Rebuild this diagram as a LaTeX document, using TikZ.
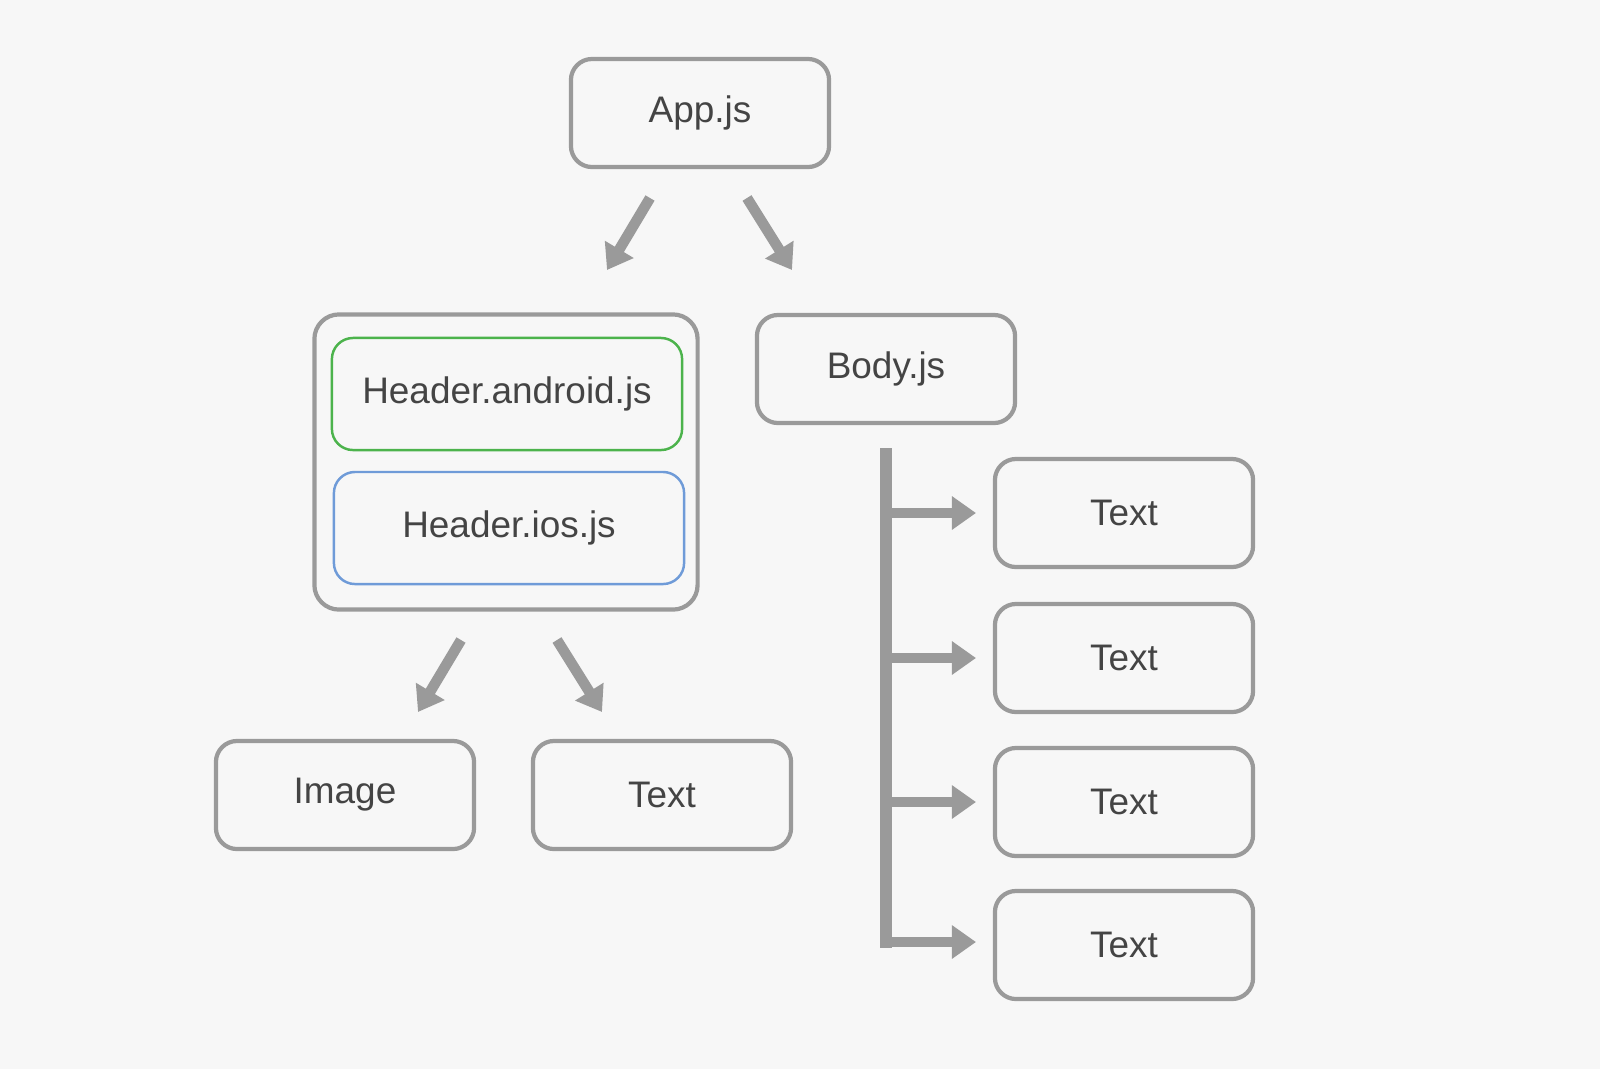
\documentclass[tikz,border=0pt]{standalone}
\usepackage{fontspec}
\setmainfont{Liberation Sans}
\usetikzlibrary{arrows.meta}
\definecolor{bg}{HTML}{F7F7F7}
\definecolor{boxgray}{HTML}{9A9A9A}
\definecolor{txtgray}{HTML}{444444}
\definecolor{andgreen}{HTML}{4CB34C}
\definecolor{iosblue}{HTML}{6F9BD8}
\begin{document}
\begin{tikzpicture}[x=0.01cm,y=-0.01cm,
    comp/.style={draw=boxgray, line width=1.2pt, rounded corners=6pt, minimum width=2.58cm, minimum height=1.08cm, text=txtgray, font=\fontsize{10.5}{12}\selectfont},
    inner/.style={draw, line width=0.7pt, rounded corners=6pt, minimum width=3.5cm, minimum height=1.12cm, text=txtgray, font=\fontsize{10.5}{12}\selectfont},
    flow/.style={draw=boxgray, line width=3pt, -{Triangle[width=0.32cm,length=0.24cm]}}]
    \fill[bg] (0,0) rectangle (1600,1069);
    \node[comp] (app) at (700,113) {App.js};
    \node[draw=boxgray, line width=1.2pt, rounded corners=7pt, minimum width=3.83cm, minimum height=2.95cm] (header) at (506,462) {};
    \node[inner, draw=andgreen] (android) at (507,394) {Header.android.js};
    \node[inner, draw=iosblue] (ios) at (509,528) {Header.ios.js};
    \node[comp] (body) at (886,369) {Body.js};
    \node[comp] (image) at (345,795) {Image};
    \node[comp] (text) at (662,795) {Text};
    \foreach \i/\y in {1/513,2/658,3/802,4/945}
        \node[comp] (t\i) at (1124,\y) {Text};
    % arrows below App.js
    \coordinate (a1) at (650,198); \coordinate (a2) at (607,270);
    \coordinate (a3) at (747,198); \coordinate (a4) at (792,270);
    \draw[flow] (a1) -- (a2);
    \draw[flow] (a3) -- (a4);
    % arrows below the header
    \coordinate (h1) at (461,640); \coordinate (h2) at (418,712);
    \coordinate (h3) at (557,640); \coordinate (h4) at (602,712);
    \draw[flow] (h1) -- (h2);
    \draw[flow] (h3) -- (h4);
    % bus from Body.js
    \coordinate (bus top) at (886,448); \coordinate (bus end) at (886,948);
    \draw[boxgray, line width=3.5pt] (bus top) -- (bus end);
    \foreach \i/\y in {1/513,2/658,3/802,4/942}
        \draw[flow] (886,\y) -- (976,\y);
\end{tikzpicture}
\end{document}
